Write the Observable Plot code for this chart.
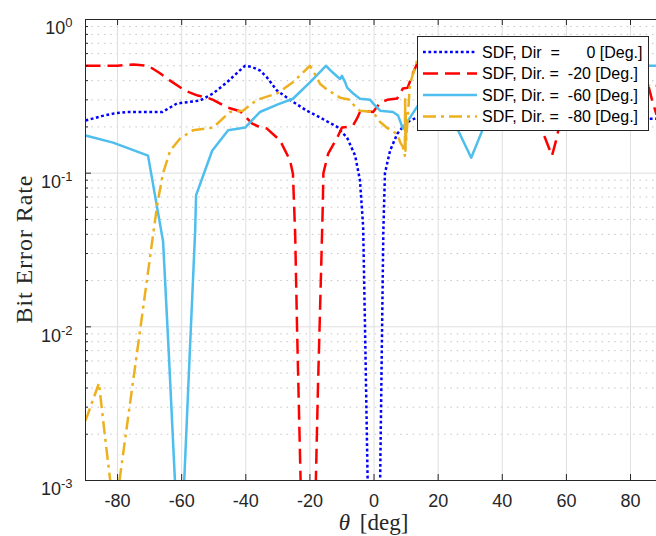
<!DOCTYPE html>
<html><head><meta charset="utf-8">
<script src="https://cdn.jsdelivr.net/npm/d3@7"></script>
<script src="https://cdn.jsdelivr.net/npm/@observablehq/plot@0.6"></script>
<style>body{margin:0;background:#fff;} svg{display:block}</style>
</head><body><div id="chart"></div>
<script>
// ---- data ----
const xTicks = [-80, -60, -40, -20, 0, 20, 40, 60, 80];
const yTicks = [1e-3, 1e-2, 1e-1, 1];
const yTickExponents = ["-3", "-2", "-1", "0"];

const seriesNames = [
  "SDF, Dir  =      0 [Deg.]",
  "SDF, Dir. =  -20 [Deg.]",
  "SDF, Dir. =  -60 [Deg.]",
  "SDF, Dir. =  -80 [Deg.]"
];
const seriesColors = ["#0000FF", "#FF0000", "#4DBEEE", "#EDB120"];
const seriesDash = ["2.8,2.6", "15,7", null, "13,5,3,5"];

const dir0X = [-90, -85, -81, -77, -70, -66, -61.5, -58, -54.3, -50.2, -45.9, -42.7, -40.2, -38, -35.6, -33.4, -30.3, -26.2, -21, -16.8, -11.5, -8.4, -5.9, -4.4, -3.4, -2.8, -2, -1.5,
  1.5, 1.9, 2.5, 2.9, 3.4, 5, 7.2, 9, 11.2, 13.4, 18, 24, 30, 35, 40, 45, 50, 55, 60, 66, 70, 77, 81, 85, 88.1];
const dir0Y = [0.22, 0.235, 0.245, 0.25, 0.25, 0.25, 0.284, 0.29, 0.297, 0.33, 0.39, 0.45, 0.5, 0.49, 0.466, 0.42, 0.345, 0.3, 0.255, 0.23, 0.2, 0.17, 0.13, 0.09, 0.045, 0.0095, 0.001, 0.0003,
  0.0003, 0.001, 0.0095, 0.042, 0.1, 0.14, 0.18, 0.2, 0.22, 0.23, 0.25, 0.29, 0.33, 0.45, 0.5, 0.45, 0.33, 0.3, 0.285, 0.25, 0.25, 0.245, 0.235, 0.226, 0.226];

const dir20X = [-90, -80, -75, -70.5, -67, -63.6, -59, -55, -52, -50.2, -45.9, -41.8, -38, -35.6, -33.4, -29.3, -26.2, -25.3, -24.6, -24, -23, -22.3,
  -19, -18.2, -17.5, -16.6, -16, -15.8, -14.3, -11.5, -10, -8.4, -6.5, -5.3, -4.4, -2.2, -0.3, 1.9, 4.1, 7.2, 9, 10.5, 12.2, 14, 18, 24, 30, 36, 42, 47, 50, 52, 55.5, 57, 60, 66, 72, 78, 83, 85.3, 86.7, 88.1];
const dir20Y = [0.5, 0.5, 0.51, 0.5, 0.45, 0.4, 0.345, 0.32, 0.31, 0.3, 0.268, 0.253, 0.21, 0.199, 0.195, 0.163, 0.121, 0.099, 0.04, 0.0095, 0.0012, 0.0003,
  0.0003, 0.0009, 0.004, 0.02, 0.06, 0.1, 0.134, 0.17, 0.198, 0.2, 0.205, 0.227, 0.25, 0.253, 0.25, 0.288, 0.3, 0.306, 0.356, 0.36, 0.45, 0.55, 0.6, 0.5, 0.45, 0.55, 0.5, 0.4, 0.3, 0.2, 0.13, 0.17, 0.35, 0.5, 0.55, 0.5, 0.5, 0.39, 0.3, 0.24];

const dir60X = [-90, -81.4, -70.5, -65.8, -64, -62, -61, -60, -59.3, -57.5, -55.8, -55.5, -50.5, -45.5, -40.2, -35.6, -30, -25.3, -20, -15, -12.8, -10.6, -10, -9, -8.4, -6.5, -4.4, -1.2, 0, 1.9, 5.9, 7.5, 9, 10.6, 13.4, 17, 22, 26.2, 30.3, 34, 40, 46, 52, 58, 64, 70, 76, 82, 85, 88.1];
const dir60Y = [0.176, 0.158, 0.13, 0.036, 0.0066, 0.0009, 0.0003, 0.0003, 0.0009, 0.0066, 0.042, 0.072, 0.14, 0.19, 0.198, 0.25, 0.28, 0.305, 0.39, 0.5, 0.45, 0.41, 0.43, 0.39, 0.36, 0.33, 0.305, 0.3, 0.28, 0.255, 0.25, 0.237, 0.195, 0.22, 0.27, 0.35, 0.3, 0.19, 0.126, 0.195, 0.3, 0.4, 0.45, 0.4, 0.45, 0.5, 0.45, 0.5, 0.5, 0.5];

const dir80X = [-90, -85.8, -84, -82.3, -81, -79.4, -76, -73, -69.2, -67.5, -65.8, -63.6, -60.5, -56.5, -50.2, -45, -40.9, -36.5, -30.3, -25.3, -20, -18.4, -16.8, -14.7, -10.6, -7.5, -5.9, -4.4, -0.3, 1.9, 4.1, 7.2, 8.1, 9, 9.6, 9.7, 9.8, 9.9, 10, 11.2, 13.4, 18, 22, 26, 30, 36, 42, 50, 58, 66, 74, 80, 85, 88.1];
const dir80Y = [0.00245, 0.0043, 0.002, 0.001, 0.0004, 0.001, 0.0033, 0.0094, 0.036, 0.065, 0.1, 0.14, 0.168, 0.19, 0.198, 0.25, 0.255, 0.3, 0.33, 0.39, 0.5, 0.44, 0.38, 0.35, 0.31, 0.3, 0.27, 0.255, 0.25, 0.215, 0.197, 0.18, 0.16, 0.148, 0.13, 0.31, 0.14, 0.25, 0.16, 0.38, 0.54, 0.5, 0.3, 0.19, 0.3, 0.45, 0.5, 0.4, 0.45, 0.5, 0.4, 0.45, 0.37, 0.37];

const seriesX = [dir0X, dir20X, dir60X, dir80X];
const seriesY = [dir0Y, dir20Y, dir60Y, dir80Y];

// ---- layout ----
const W = 656, H = 536, mL = 85, mR = 0, mT = 19, mB = 56;
const plotW = W - mL - mR, plotH = H - mT - mB;
const yMinor = d3.range(-3, 0).flatMap(k => d3.range(2, 10).map(m => m * Math.pow(10, k)));
const axisColor = "#262626";
const lineW = 2.5;

const lineMarks = seriesX.map((xs, i) => Plot.line(
  xs.map((x, j) => ({x, y: seriesY[i][j]})),
  {x: "x", y: "y", stroke: seriesColors[i], strokeWidth: lineW,
   strokeDasharray: seriesDash[i] || undefined, strokeLinecap: "butt", strokeLinejoin: "round", clip: true}
));

const chart = Plot.plot({
  width: W, height: H, marginLeft: mL, marginRight: mR, marginTop: mT, marginBottom: mB,
  x: {domain: [-90, 88.1]},
  y: {type: "log", domain: [1e-3, 1]},
  style: {fontFamily: "'Liberation Sans', Arial, sans-serif", fontSize: "18px", color: axisColor, background: "white"},
  marks: [
    Plot.ruleY(yMinor, {stroke: "#c4c4c4", strokeDasharray: "1.5,4.8"}),
    Plot.ruleX(xTicks, {stroke: "#dfdfdf"}),
    Plot.ruleY(yTicks, {stroke: "#dfdfdf"}),
    ...lineMarks,
    Plot.ruleX([-90], {stroke: axisColor}),
    Plot.ruleY([1e-3, 1], {stroke: axisColor}),
    Plot.ruleX(xTicks, {stroke: axisColor, insetTop: plotH - 6}),
    Plot.ruleX(xTicks, {stroke: axisColor, insetBottom: plotH - 6}),
    Plot.ruleY(yTicks, {stroke: axisColor, insetRight: plotW - 6}),
    Plot.ruleY(yMinor, {stroke: axisColor, insetRight: plotW - 3}),
    Plot.axisX(xTicks, {tickSize: 0, tickPadding: 14, tickFormat: d => String(d), fontSize: 18, label: null}),
    Plot.axisY(yTicks, {tickSize: 0, tickPadding: 13, tickFormat: d => "10", fontSize: 18, label: null})
  ]
});
document.getElementById("chart").appendChild(chart);

const svg = d3.select(chart);
// superscript exponents on y tick labels
svg.selectAll('g[aria-label="y-axis tick label"] text').each(function(d, i) {
  const t = d3.select(this);
  t.attr("dy", "0.5em").attr("font-size", "18px").style("font-size", "18px");
  t.text("10");
  t.append("tspan").attr("dy", "-7").attr("font-size", "13px").style("font-size", "13px").text(yTickExponents[i]);
});

const xs = chart.scale("x");
const xCenter = (xs.apply(-90) + xs.apply(90)) / 2;
const yCenter = mT + plotH / 2;
const serif = "'Liberation Serif', 'Times New Roman', serif";

// axis labels
const xl = svg.append("text").attr("x", xCenter).attr("y", 530).attr("text-anchor", "middle")
  .attr("font-family", serif).attr("font-size", 23).attr("fill", axisColor);
xl.append("tspan").attr("font-style", "italic").text("θ");
xl.append("tspan").attr("dx", 4).text(" [deg]");

svg.append("text").attr("transform", `translate(32,${yCenter}) rotate(-90)`).attr("text-anchor", "middle")
  .attr("font-family", serif).attr("font-size", 24).attr("fill", axisColor)
  .attr("textLength", 148).attr("lengthAdjust", "spacing")
  .text("Bit Error Rate");

// legend
const lg = svg.append("g");
lg.append("rect").attr("x", 417.5).attr("y", 36.5).attr("width", 231).attr("height", 94)
  .attr("fill", "white").attr("stroke", axisColor).attr("stroke-width", 1);
const rowY = [52, 73.5, 95, 116.5];
seriesNames.forEach((name, i) => {
  lg.append("line").attr("x1", 423).attr("x2", 477).attr("y1", rowY[i]).attr("y2", rowY[i])
    .attr("stroke", seriesColors[i]).attr("stroke-width", lineW)
    .attr("stroke-dasharray", seriesDash[i]).attr("stroke-linecap", "butt");
  lg.append("text").attr("x", 482).attr("y", rowY[i]).attr("dy", "0.36em")
    .attr("text-anchor", "start")
    .attr("xml:space", "preserve").style("white-space", "pre")
    .attr("font-family", "'Liberation Sans', Arial, sans-serif").attr("font-size", 16).attr("fill", "#000")
    .text(name);
});
</script>
</body></html>
